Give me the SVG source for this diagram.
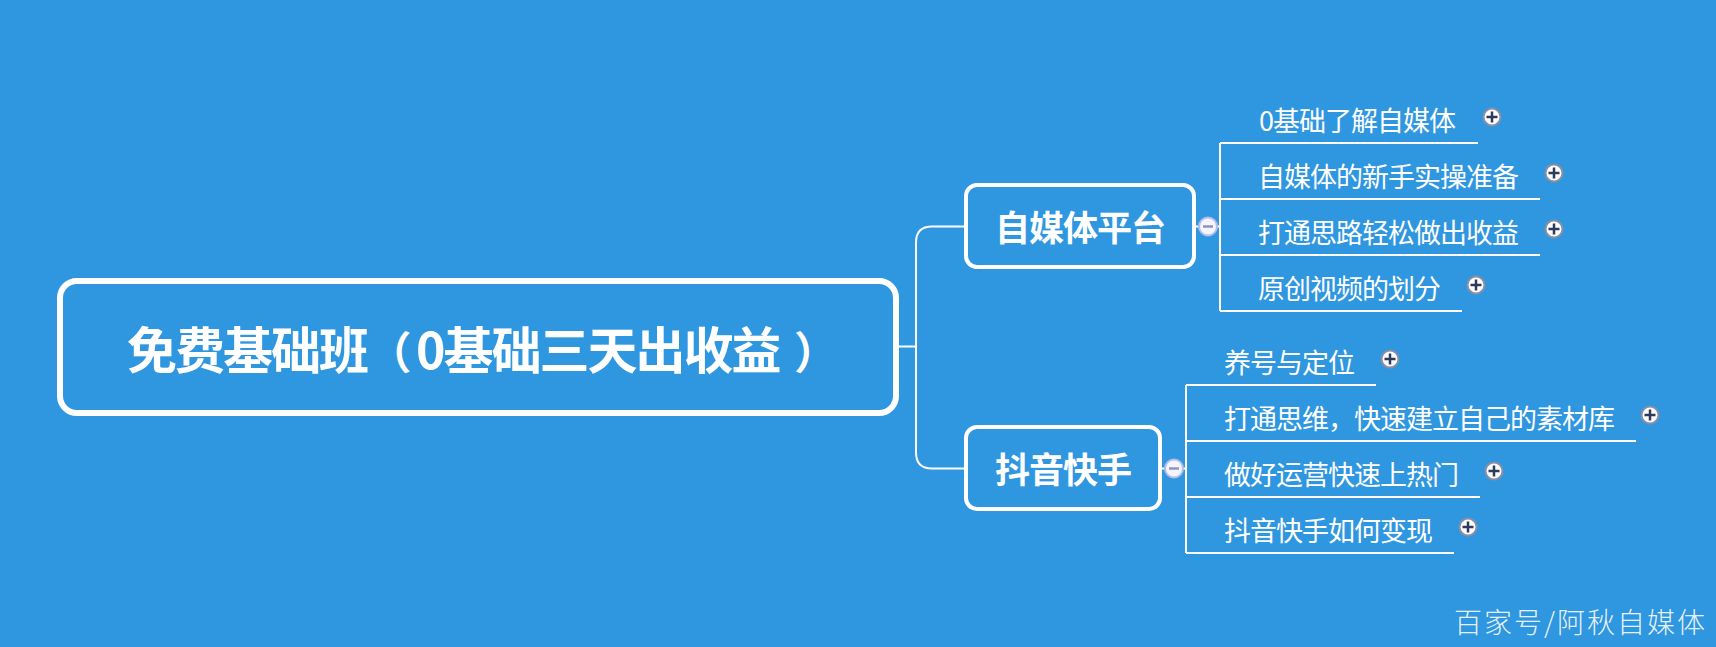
<svg xmlns="http://www.w3.org/2000/svg" width="1716" height="647" viewBox="0 0 1716 647">
<style>
text{font-family:"Noto Sans CJK SC","Liberation Sans",sans-serif;fill:#fff}
.box{fill:none;stroke:#fff}
.root{font-size:50px;font-weight:700;letter-spacing:-2px}
.par{font-size:44px;letter-spacing:0}
.main{font-size:35px;font-weight:700;letter-spacing:-1px}
.leaf{font-size:27px;letter-spacing:-1px}
.wm{font-size:28px;letter-spacing:2px;opacity:.88;font-weight:300}
.ln{fill:none;stroke:#fff;stroke-width:2}
.ob{fill:#f4f4fb;stroke:#b4bee6;stroke-width:2}
.oi{stroke:#8f94bf;stroke-width:2.5}
.pb{fill:#fff;stroke:#8a8fa3;stroke-width:2}
.pi{stroke:#2c3a5c;stroke-width:2.5}
</style>
<defs>
<g id="plus"><circle r="8.500" class="pb"/><path d="M-5.500 0H5.500M0-5.500V5.500" class="pi"/></g>
<g id="minus"><circle r="9" class="ob"/><path d="M-5 0H5" class="oi"/></g>
</defs>
<rect width="1716" height="647" fill="#2f96e0"/>
<g id="connectors">
<path class="ln" d="M899 346.500H916M964 226.500H932Q916 226.500 916 242.500V452.500Q916 468.500 932 468.500H964"/>
<path class="ln" d="M1196 226.500H1220M1220 143V311M1220 143H1478M1220 199H1540M1220 255H1540M1220 311H1462"/>
<path class="ln" d="M1162 468.500H1186M1186 385V553M1186 385H1376M1186 441H1636M1186 497H1480M1186 553H1454"/>
</g>
<g id="root"><rect class="box" x="60" y="281" width="836" height="132" rx="17" stroke-width="6"/><text class="root" y="369"><tspan x="127">免费基础班</tspan><tspan class="par" x="367.500">（</tspan><tspan x="416">0基础三天出收益</tspan><tspan class="par" x="794">）</tspan></text></g>
<g id="n1"><rect class="box" x="966" y="185" width="228" height="82" rx="11" stroke-width="4"/><text class="main" x="995" y="241">自媒体平台</text><use href="#minus" x="1208" y="226.500"/></g>
<g id="n2"><rect class="box" x="966" y="427" width="194" height="82" rx="11" stroke-width="4"/><text class="main" x="995" y="483">抖音快手</text><use href="#minus" x="1174" y="468.500"/></g>
<g id="l1"><text class="leaf" x="1259" y="131">0基础了解自媒体</text><use href="#plus" x="1492" y="117"/></g>
<g id="l2"><text class="leaf" x="1258" y="187">自媒体的新手实操准备</text><use href="#plus" x="1554" y="173"/></g>
<g id="l3"><text class="leaf" x="1258" y="243">打通思路轻松做出收益</text><use href="#plus" x="1554" y="229"/></g>
<g id="l4"><text class="leaf" x="1258" y="299">原创视频的划分</text><use href="#plus" x="1476" y="285"/></g>
<g id="l5"><text class="leaf" x="1224" y="373">养号与定位</text><use href="#plus" x="1390" y="359"/></g>
<g id="l6"><text class="leaf" x="1224" y="429">打通思维，快速建立自己的素材库</text><use href="#plus" x="1650" y="415"/></g>
<g id="l7"><text class="leaf" x="1224" y="485">做好运营快速上热门</text><use href="#plus" x="1494" y="471"/></g>
<g id="l8"><text class="leaf" x="1224" y="541">抖音快手如何变现</text><use href="#plus" x="1468" y="527"/></g>
<text class="wm" x="1454" y="633">百家号/阿秋自媒体</text>
</svg>
